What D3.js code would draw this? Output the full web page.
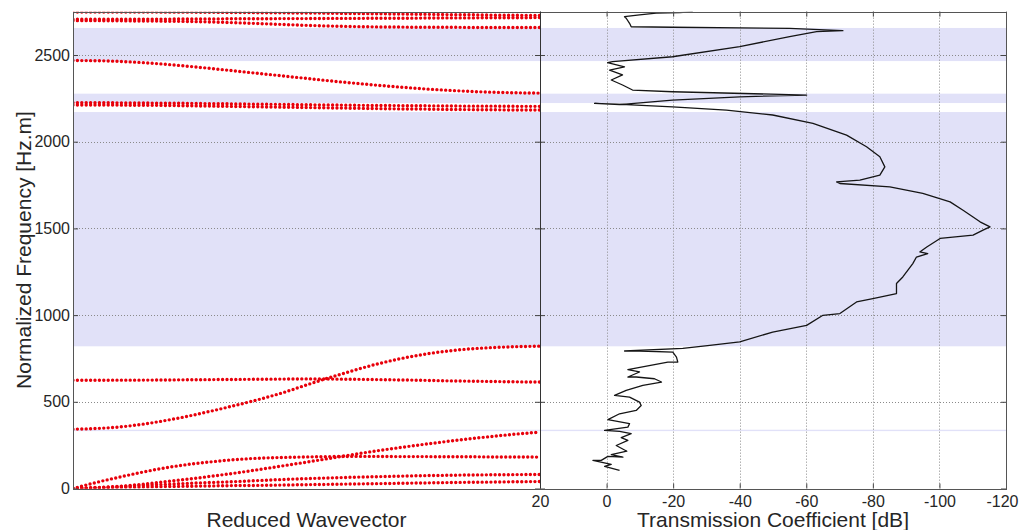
<!DOCTYPE html>
<html>
<head>
<meta charset="utf-8">
<script src="https://cdn.jsdelivr.net/npm/d3@7"></script>
<style>
  html, body { margin: 0; padding: 0; background: #fff; }
  svg { display: block; font-family: "Liberation Sans", Arial, sans-serif; }
  .tick text { fill: #262626; font-size: 16px; }
  .title { fill: #262626; font-size: 21px; }
</style>
</head>
<body>
<div id="chart"></div>
<script>
// reduced wavevector samples (left panel x)
const wavevector = [0, 1, 2, 3, 4, 5, 6, 7, 8, 9, 10, 11, 12, 13, 14, 15, 16, 17, 18, 19, 20]

// dispersion branches, normalized frequency at each wavevector sample
const branch1 = [0, 3, 6, 8, 11, 13, 15, 17, 18, 20, 22, 24, 26, 28, 30, 32, 34, 36, 37, 39, 40]
const branch2 = [0, 6, 12, 18, 24, 30, 35, 40, 46, 52, 57, 61, 65, 68, 71, 74, 76, 78, 79, 80, 81]
const branch3 = [0, 35, 66, 95, 120, 140, 155, 167, 175, 179, 182, 184, 185, 185, 184, 184, 183, 183, 182, 182, 181]
const branch4 = [0, 4, 12, 25, 40, 55, 72, 90, 110, 131, 152, 174, 196, 217, 236, 254, 271, 287, 301, 314, 325]
const branch5 = [342, 346, 355, 371, 393, 419, 449, 481, 515, 553, 597, 640, 680, 717, 748, 773, 792, 805, 813, 818, 821]
const branch6 = [624, 624, 625, 625, 626, 627, 628, 629, 630, 631, 632, 631, 630, 628, 626, 624, 621, 619, 617, 615, 614]
const branch7 = [2225, 2225, 2224, 2223, 2222, 2221, 2219, 2218, 2216, 2215, 2213, 2212, 2210, 2209, 2208, 2207, 2206, 2205, 2205, 2204, 2204]
const branch8 = [2212, 2212, 2211, 2210, 2209, 2207, 2205, 2203, 2201, 2199, 2197, 2195, 2193, 2191, 2189, 2188, 2186, 2185, 2184, 2183, 2183]
const branch9 = [2468, 2467, 2463, 2456, 2446, 2434, 2421, 2407, 2393, 2379, 2365, 2351, 2338, 2326, 2315, 2305, 2297, 2290, 2285, 2282, 2280]
const branch10 = [2748, 2748, 2748, 2748, 2747, 2747, 2746, 2745, 2744, 2743, 2742, 2741, 2739, 2738, 2736, 2735, 2733, 2732, 2730, 2729, 2728]
const branch11 = [2706, 2706, 2706, 2707, 2707, 2708, 2708, 2709, 2709, 2710, 2710, 2711, 2711, 2712, 2712, 2713, 2714, 2714, 2715, 2715, 2716]
const branch12 = [2698, 2698, 2697, 2696, 2695, 2693, 2690, 2686, 2681, 2676, 2671, 2667, 2664, 2662, 2661, 2660, 2660, 2659, 2659, 2659, 2659]
const branches = [branch1, branch2, branch3, branch4, branch5, branch6, branch7, branch8, branch9, branch10, branch11, branch12]

// band gaps [from, to] in normalized frequency
const gapBands = [[331, 339], [820, 2171], [2223, 2277], [2465, 2656]]

const freqTicks = [0, 500, 1000, 1500, 2000, 2500]
const dbTicks = [20, 0, -20, -40, -60, -80, -100, -120]

// transmission coefficient trace (frequency, dB)
const transFreq = [104, 127, 139, 162, 162, 185, 181, 196, 215, 248, 277, 293, 316, 329, 335, 354, 374, 397, 431, 450,
  479, 498, 527, 537, 566, 595, 614, 633, 643, 643, 672, 685, 700, 729, 729, 758, 787, 793, 793, 808,
  826, 845, 902, 941, 999, 1009, 1076, 1095, 1124, 1182, 1220, 1297, 1335, 1355, 1364, 1393, 1442, 1461, 1490, 1509,
  1538, 1566, 1605, 1653, 1702, 1740, 1759, 1768, 1778, 1807, 1855, 1913, 1971, 2038, 2106, 2154, 2182, 2201, 2217, 2221,
  2214, 2240, 2259, 2269, 2288, 2298, 2327, 2356, 2385, 2413, 2432, 2456, 2462, 2490, 2548, 2606, 2635, 2640, 2654, 2660,
  2663, 2683, 2712, 2721, 2731, 2741, 2744, 2750]
const transDb = [-3.9, 0.6, -1.4, 4.1, 1.6, -0.4, -4.9, -1.4, -6.1, -2.9, -6.4, -4.4, -7.4, -3.9, 0.6, -6.4, -6.9, -0.4, -3.9, -8.9,
  -10.4, -9.9, -6.9, -2.4, -5.9, -10.9, -16.5, -14.4, -8.9, -6.4, -9.9, -6.4, -10.4, -18.4, -21.4, -21.0, -19.9, -9.9, -5.4, -22.9,
  -31.0, -40.0, -49.9, -60.1, -65.0, -70.1, -75.1, -80.0, -87.1, -87.1, -89.0, -92.0, -93.1, -96.5, -94.1, -96.2, -100.2, -110.1, -113.1, -115.2,
  -112.2, -110.1, -107.1, -103.2, -95.0, -85.1, -70.1, -69.1, -76.1, -82.1, -83.6, -82.1, -78.1, -72.1, -62.0, -49.9, -36.0, -19.8, -2.9, 3.6,
  -3.9, -19.8, -40.0, -60.1, -19.8, -7.8, -4.8, -1.4, -4.8, -0.9, -5.4, -0.3, -1.8, -19.8, -40.0, -55.0, -63.1, -71.0, -55.0, -19.8,
  -7.4, -6.9, -5.9, -5.4, -9.9, -14.9, -22.0, -25.9]

let width = 1020
let height = 530
let plot = { left: 73, mid: 540, right: 1006, top: 11.65, bottom: 488.5 }

let svg = d3.select('#chart')
  .append('svg')
  .attr('width', width)
  .attr('height', height)

let y = d3.scaleLinear().domain([0, 2750]).range([plot.bottom, plot.top])
let xK = d3.scaleLinear().domain([0, 20]).range([plot.left, plot.mid])
let xT = d3.scaleLinear().domain([20, -120]).range([plot.mid, plot.right])

let defs = svg.append('defs')
defs.append('clipPath').attr('id', 'clip-left')
  .append('rect')
  .attr('x', plot.left).attr('y', plot.top)
  .attr('width', plot.mid - plot.left).attr('height', plot.bottom - plot.top)
defs.append('clipPath').attr('id', 'clip-right')
  .append('rect')
  .attr('x', plot.mid).attr('y', plot.top)
  .attr('width', plot.right - plot.mid).attr('height', plot.bottom - plot.top)

// band gaps, shaded across both panels
svg.append('g')
  .selectAll('rect')
  .data(gapBands)
  .join('rect')
  .attr('x', plot.left)
  .attr('width', plot.right - plot.left)
  .attr('y', d => y(d[1]))
  .attr('height', d => y(d[0]) - y(d[1]))
  .attr('fill', '#e1e1f8')

// dotted grid
let grid = svg.append('g')
  .attr('stroke', '#8a8a8a')
  .attr('stroke-width', 1)
  .attr('stroke-dasharray', '1,2')
grid.selectAll('.hgrid')
  .data(freqTicks.filter(d => d > 0))
  .join('line')
  .attr('class', 'hgrid')
  .attr('x1', plot.left).attr('x2', plot.right)
  .attr('y1', d => Math.round(y(d)) + 0.5).attr('y2', d => Math.round(y(d)) + 0.5)
grid.selectAll('.vgrid')
  .data(dbTicks.filter(d => d < 20 && d > -120))
  .join('line')
  .attr('class', 'vgrid')
  .attr('x1', d => Math.round(xT(d)) + 0.5).attr('x2', d => Math.round(xT(d)) + 0.5)
  .attr('y1', plot.top).attr('y2', plot.bottom)

// dispersion branches as red dot chains
let branchLine = d3.line()
  .x((d, i) => xK(wavevector[i]))
  .y(d => y(d))
  .curve(d3.curveMonotoneX)

svg.append('g')
  .attr('clip-path', 'url(#clip-left)')
  .selectAll('path')
  .data(branches)
  .join('path')
  .attr('d', branchLine)
  .attr('fill', 'none')
  .attr('stroke', '#e8000b')
  .attr('stroke-width', 3.4)
  .attr('stroke-linecap', 'round')
  .attr('stroke-dasharray', '0 4.4')

// transmission coefficient
let transLine = d3.line()
  .x(d => xT(d[1]))
  .y(d => y(d[0]))

svg.append('g')
  .attr('clip-path', 'url(#clip-right)')
  .append('path')
  .datum(d3.zip(transFreq, transDb))
  .attr('d', transLine)
  .attr('fill', 'none')
  .attr('stroke', '#151515')
  .attr('stroke-width', 1.3)
  .attr('stroke-linejoin', 'round')

// axes
let leftAxis = svg.append('g')
  .attr('transform', `translate(${plot.left},0)`)
  .call(d3.axisLeft(y).tickValues(freqTicks).tickSize(-5).tickPadding(3).tickFormat(d => String(d)))
leftAxis.select('.domain').remove()
leftAxis.selectAll('line').attr('stroke', '#444')

let midAxisL = svg.append('g')
  .attr('transform', `translate(${plot.mid},0)`)
  .call(d3.axisLeft(y).tickValues(freqTicks).tickSize(5).tickFormat(''))
midAxisL.select('.domain').remove()
midAxisL.selectAll('line').attr('stroke', '#444')

let midAxisR = svg.append('g')
  .attr('transform', `translate(${plot.mid},0)`)
  .call(d3.axisRight(y).tickValues(freqTicks).tickSize(5).tickFormat(''))
midAxisR.select('.domain').remove()
midAxisR.selectAll('line').attr('stroke', '#444')

let rightAxis = svg.append('g')
  .attr('transform', `translate(${plot.right},0)`)
  .call(d3.axisRight(y).tickValues(freqTicks).tickSize(-5).tickFormat(''))
rightAxis.select('.domain').remove()
rightAxis.selectAll('line').attr('stroke', '#444')

let bottomAxis = svg.append('g')
  .attr('transform', `translate(0,${plot.bottom})`)
  .call(d3.axisBottom(xT).tickValues(dbTicks).tickSize(-5).tickPadding(7).tickFormat(d => String(d)))
bottomAxis.select('.domain').remove()
bottomAxis.selectAll('line').attr('stroke', '#444')
// keep the last label inside the window
bottomAxis.selectAll('.tick text')
  .filter(d => d === -120)
  .attr('dx', -4)

let topAxis = svg.append('g')
  .attr('transform', `translate(0,${plot.top})`)
  .call(d3.axisTop(xT).tickValues(dbTicks).tickSize(-5).tickFormat(''))
topAxis.select('.domain').remove()
topAxis.selectAll('line').attr('stroke', '#444')

// frames
let frame = svg.append('g').attr('fill', 'none').attr('stroke', '#555').attr('stroke-width', 1)
frame.append('rect')
  .attr('x', plot.left + 0.5).attr('y', Math.round(plot.top) + 0.5)
  .attr('width', plot.right - plot.left).attr('height', Math.round(plot.bottom) - Math.round(plot.top))
frame.append('line')
  .attr('x1', plot.mid + 0.5).attr('x2', plot.mid + 0.5)
  .attr('y1', plot.top).attr('y2', plot.bottom)
  .attr('stroke', '#333')

// titles
svg.append('text')
  .attr('class', 'title')
  .attr('x', (plot.left + plot.mid) / 2)
  .attr('y', 527)
  .attr('text-anchor', 'middle')
  .text('Reduced Wavevector')

svg.append('text')
  .attr('class', 'title')
  .attr('x', (plot.mid + plot.right) / 2)
  .attr('y', 527)
  .attr('text-anchor', 'middle')
  .text('Transmission Coefficient [dB]')

svg.append('text')
  .attr('class', 'title')
  .attr('transform', 'translate(31,250) rotate(-90)')
  .attr('text-anchor', 'middle')
  .text('Normalized Frequency [Hz.m]')
</script>
</body>
</html>
